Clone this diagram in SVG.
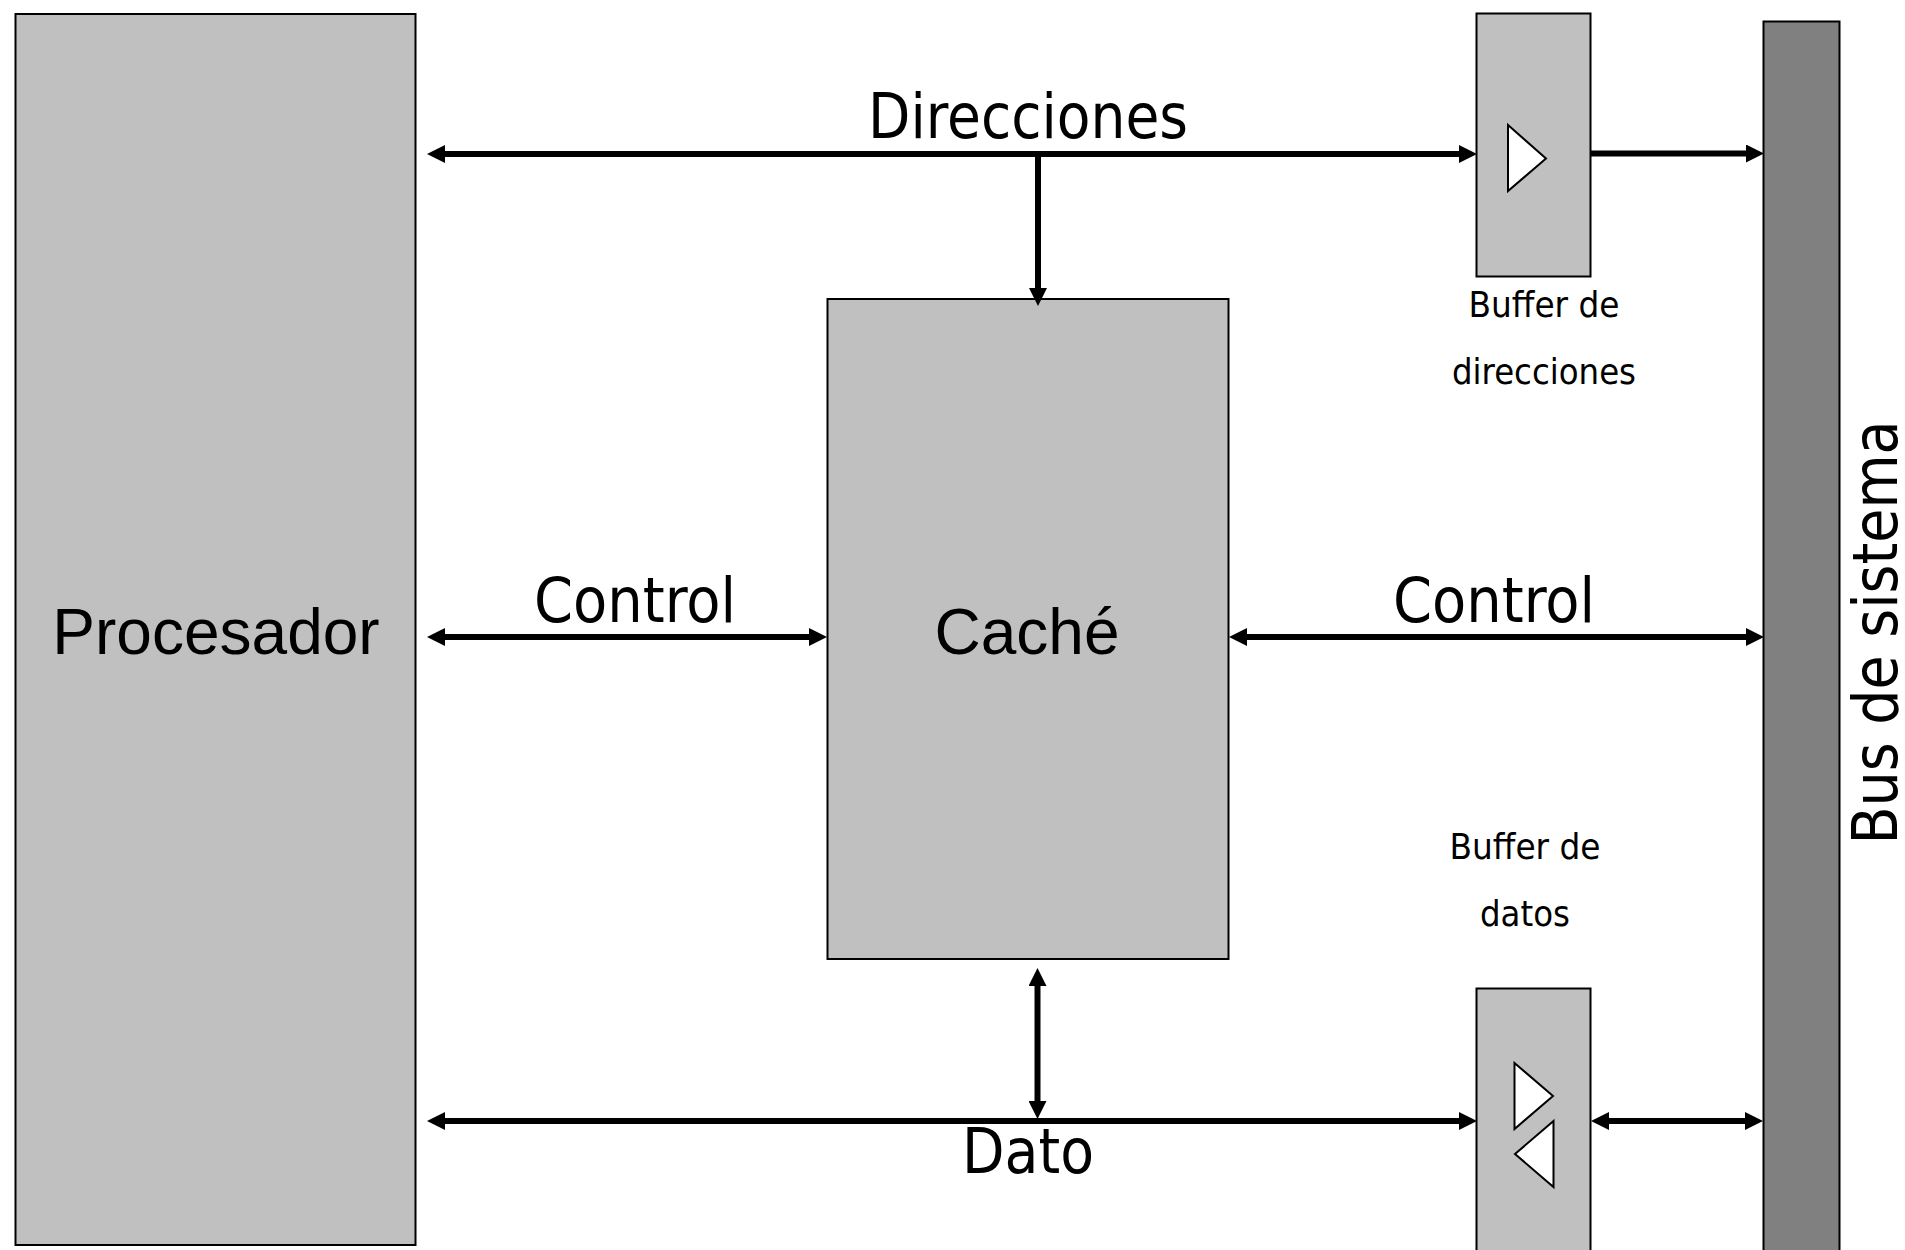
<svg xmlns="http://www.w3.org/2000/svg" width="1905" height="1250" viewBox="0 0 1905 1250">
<style>
.box{fill:#c0c0c0;stroke:#000;stroke-width:2}
.bus{fill:#808080;stroke:#000;stroke-width:2}
.tri{fill:#fff;stroke:#000;stroke-width:2}
.conn{stroke:#000;stroke-width:6;fill:none}
.head{fill:#000}
text{fill:#000}
.ar{font-family:"Liberation Sans",Arial,sans-serif;font-size:64px}
.ta{font-family:"DejaVu Sans Condensed","DejaVu Sans",sans-serif;font-size:63px}
.sm{font-family:"DejaVu Sans Condensed","DejaVu Sans",sans-serif;font-size:36px}
</style>
<defs>
<marker id="end" markerUnits="userSpaceOnUse" markerWidth="18" markerHeight="18" refX="2" refY="9" orient="auto"><path class="head" d="M0 0L18 9L0 18Z"/></marker>
<marker id="start" markerUnits="userSpaceOnUse" markerWidth="18" markerHeight="18" refX="16" refY="9" orient="auto"><path class="head" d="M18 0L0 9L18 18Z"/></marker>
</defs>
<rect width="1905" height="1250" fill="#fff"/>
<g id="procesador"><rect class="box" x="15.500" y="14" width="400" height="1231"/><text class="ar" x="216" y="654" text-anchor="middle">Procesador</text></g>
<g id="cache"><rect class="box" x="827.500" y="299" width="401" height="660"/><text class="ar" x="1027" y="654" text-anchor="middle">Caché</text></g>
<g id="buffer-direcciones"><rect class="box" x="1476.500" y="13.500" width="114" height="263"/><polygon class="tri" points="1508,125 1546,158.500 1508,191"/><text class="sm" x="1544" y="317" text-anchor="middle" textLength="151" lengthAdjust="spacingAndGlyphs">Buffer de</text><text class="sm" x="1544" y="384" text-anchor="middle" textLength="184" lengthAdjust="spacingAndGlyphs">direcciones</text></g>
<g id="buffer-datos"><rect class="box" x="1476.500" y="988.500" width="114" height="280"/><polygon class="tri" points="1514.500,1063 1553,1096 1514.500,1129"/><polygon class="tri" points="1553.500,1121 1515,1154 1553.500,1187"/><text class="sm" x="1525" y="859" text-anchor="middle" textLength="151" lengthAdjust="spacingAndGlyphs">Buffer de</text><text class="sm" x="1525" y="926" text-anchor="middle" textLength="90" lengthAdjust="spacingAndGlyphs">datos</text></g>
<g id="bus-sistema"><rect class="bus" x="1763.500" y="21.500" width="76" height="1250"/><text class="ta" transform="translate(1897,632.500) rotate(-90)" text-anchor="middle" textLength="424" lengthAdjust="spacingAndGlyphs">Bus de sistema</text></g>
<g id="connectors">
<line class="conn" x1="443" y1="154" x2="1461" y2="154" marker-start="url(#start)" marker-end="url(#end)"/>
<line class="conn" x1="1591" y1="153.500" x2="1748" y2="153.500" marker-end="url(#end)"/>
<line class="conn" x1="1038" y1="157" x2="1038" y2="290" marker-end="url(#end)"/>
<line class="conn" x1="443" y1="637" x2="811" y2="637" marker-start="url(#start)" marker-end="url(#end)"/>
<line class="conn" x1="1245" y1="637" x2="1748" y2="637" marker-start="url(#start)" marker-end="url(#end)"/>
<line class="conn" x1="1037.500" y1="984" x2="1037.500" y2="1103" marker-start="url(#start)" marker-end="url(#end)"/>
<line class="conn" x1="443" y1="1121" x2="1461" y2="1121" marker-start="url(#start)" marker-end="url(#end)"/>
<line class="conn" x1="1607" y1="1121" x2="1747" y2="1121" marker-start="url(#start)" marker-end="url(#end)"/>
</g>
<g id="labels">
<text class="ta" x="1028" y="138" text-anchor="middle" textLength="320" lengthAdjust="spacingAndGlyphs">Direcciones</text>
<text class="ta" x="635" y="622" text-anchor="middle" textLength="202" lengthAdjust="spacingAndGlyphs">Control</text>
<text class="ta" x="1494" y="622" text-anchor="middle" textLength="202" lengthAdjust="spacingAndGlyphs">Control</text>
<text class="ta" x="1028" y="1173" text-anchor="middle" textLength="132" lengthAdjust="spacingAndGlyphs">Dato</text>
</g>
</svg>
